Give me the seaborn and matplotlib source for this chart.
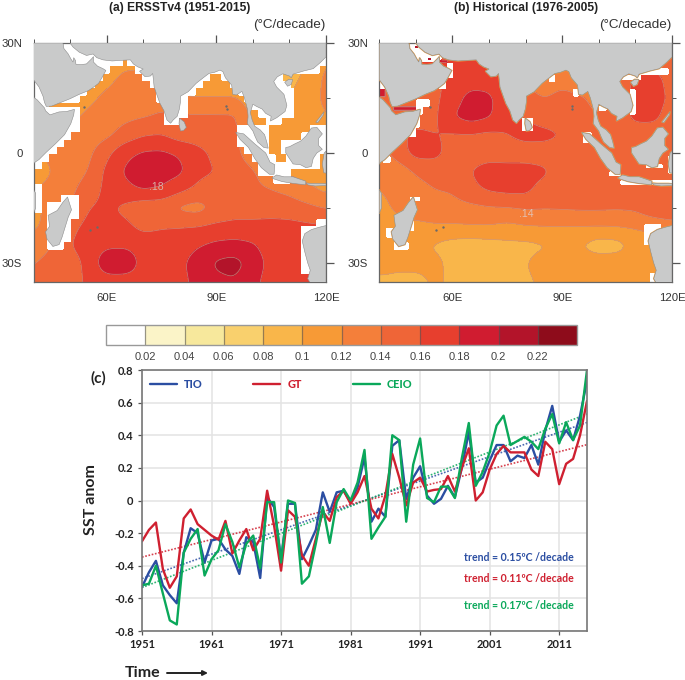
import numpy as np
import pandas as pd
import matplotlib
matplotlib.use('Agg')
import matplotlib.pyplot as plt
from matplotlib.colors import from_levels_and_colors
import seaborn as sns

# Trend maps, in 0.01 C/decade on a 5 degree grid.
GRID_LON = list(range(40, 121, 5))
GRID_LAT = [30, 25, 20, 15, 10, 5, 0, -5, -10, -15, -20, -25, -30, -35, -40]

TREND_A = [
    [10, 10, 10, 10, 10.5, 11, 11, 11, 10.5, 10.5, 10.5, 10.5, 10.5, 10, 9, 10, 11],
    [10, 10, 10, 10, 11, 11.5, 11.5, 11.5, 11, 11, 11, 10.5, 10.5, 10, 9, 10, 12],
    [10, 10, 10, 10.5, 11.5, 12.5, 12.5, 12.5, 11.5, 11, 11, 11, 11, 10, 9.5, 10.5, 12.5],
    [10, 10, 10, 11.5, 12.5, 13, 13, 13.5, 12, 12, 12, 12, 11, 10.5, 10, 11, 12.5],
    [10, 10.5, 11.5, 12.5, 13, 13.5, 13.8, 14.2, 14.3, 14.3, 14.3, 14.3, 11.5, 11, 10.5, 11, 12],
    [11, 11.5, 12.5, 13, 13.5, 14.8, 15.8, 16, 15, 15, 14.8, 14.5, 12, 11, 10.5, 10.5, 11],
    [11.5, 12.5, 13, 13.5, 15.5, 17.5, 18.3, 18.4, 17.8, 16.6, 15.5, 14.5, 13, 11, 10.5, 10.5, 10.5],
    [11, 12, 13, 14, 16.5, 18.3, 19, 19, 18.5, 16.5, 16, 14.8, 14.2, 13, 11.5, 11, 11],
    [12, 12.5, 13.5, 15, 16.5, 17.5, 18.2, 17.8, 16.5, 15.5, 15, 14.7, 14.3, 14, 13.5, 12.5, 11.5],
    [11.5, 12.5, 14, 16, 16.4, 15.5, 14.5, 14.5, 13.5, 13.2, 14.4, 15, 15, 15.2, 15, 14.5, 13.9],
    [11.5, 13, 15.5, 16.5, 16.8, 16.5, 15.4, 15.8, 15.9, 16, 16.4, 16.6, 16.6, 16.6, 16.6, 16.4, 16.3],
    [13, 14, 16, 16.8, 17.5, 17.6, 17.2, 17, 17.2, 17.8, 18.4, 18.6, 18.2, 17, 16.8, 16.6, 16.5],
    [14, 14.5, 15.2, 16.5, 19.6, 19.6, 17.3, 17.3, 17.6, 18.8, 20.4, 20.8, 19.2, 17.3, 16.8, 16.5, 16.3],
    [14, 14.3, 15.3, 16.3, 17, 17, 17.2, 17.2, 17.6, 18.4, 19.5, 19.8, 18.5, 17.2, 16.6, 16.2, 15.5],
    [14, 14.3, 15.3, 16.3, 17, 17, 17.2, 17.2, 17.6, 18.4, 19.5, 19.8, 18.5, 17.2, 16.6, 16.2, 15.5],
]

TREND_B = [
    [17, 17, 17, 17, 16, 17, 17, 15, 13, 13, 13, 13, 12, 12, 13, 14, 14],
    [18, 18, 18, 17, 16.5, 17, 16.5, 16, 13, 13, 13, 13, 13, 13, 14, 15, 14.5],
    [15, 15, 15, 15.5, 16.5, 17, 17, 15.5, 14, 13, 13.5, 13, 13.5, 14.5, 16.5, 17, 15],
    [15, 15, 15, 15.5, 17, 18.8, 18.5, 16.5, 14.5, 14, 14.5, 14.2, 13.5, 15, 16.5, 17, 15.5],
    [15, 15, 15, 15.5, 18, 19, 18.3, 16.5, 16, 14.7, 14.5, 14.5, 14, 15, 16.5, 16.5, 15],
    [14, 15.5, 16.5, 16, 15.8, 15.8, 15.5, 16, 16.8, 16.8, 16, 14.5, 14.5, 14.8, 15, 15, 15],
    [13, 15, 16.8, 16.8, 15, 15, 15, 14.8, 14.8, 14.7, 14.7, 14.6, 14.6, 14.6, 14.6, 14.6, 14.6],
    [12, 12.8, 14.2, 14.5, 15, 16, 17, 17, 17, 16.5, 14.8, 14.6, 14.6, 14.6, 14.6, 14.6, 14.6],
    [12, 12.5, 13.5, 14, 14.2, 15.5, 16.3, 16.6, 16.6, 15, 14.5, 14.5, 14.5, 14.5, 14.5, 14.5, 14.5],
    [11.5, 12.3, 13, 13.2, 13.3, 13.5, 13.8, 13.9, 14.2, 14.2, 14.3, 14.4, 14.4, 14.3, 14.4, 15.5, 16],
    [11, 11.5, 11.5, 11.8, 11.8, 11.9, 11.9, 11.5, 11.9, 12, 12, 12, 12, 12.1, 12.3, 12.6, 13],
    [11, 11, 10.5, 9.8, 9.2, 9, 9.2, 9.5, 9.5, 9.8, 10.2, 10, 9, 9.2, 10.6, 11, 12],
    [11, 10.5, 10.5, 10.5, 9.5, 9.4, 9.5, 9.7, 9.9, 10.7, 10.8, 10.9, 11, 11, 11, 11.2, 12],
    [9.5, 9.5, 9.5, 10.2, 9.8, 9.6, 9.6, 9.6, 9.8, 10.2, 10.6, 11, 11, 10.9, 11, 11, 11],
    [9.5, 9.5, 9.5, 10.2, 9.8, 9.6, 9.6, 9.6, 9.8, 10.2, 10.6, 11, 11, 10.9, 11, 11, 11],
]

# Where ERSST has data: (lat top, lat bottom, [lon ranges]).
OCEAN_A = [
    (25.5, 23.5, [(64.5, 65.6)]),
    (23.5, 21.5, [(60.9, 67.7), (118.5, 120)]),
    (21.5, 19.5, [(59.1, 69.5), (88.4, 91.4), (108.2, 120)]),
    (19.5, 17.5, [(56.8, 71.8), (86.4, 93.6), (110.5, 120)]),
    (17.5, 15.5, [(54.7, 73.6), (84.5, 95.9), (111.4, 120)]),
    (15.5, 13.5, [(52.7, 73.6), (82.3, 97.7), (111.4, 120)]),
    (13.5, 12.5, [(44.5, 75.5), (82.3, 98.6), (111.4, 120)]),
    (12.5, 11.5, [(52.7, 75.5), (82.3, 98.6), (111.4, 120)]),
    (11.5, 9.5, [(52.7, 75.5), (82.3, 98.6), (99.1, 101.4), (111.4, 120)]),
    (9.5, 7.5, [(52.7, 75.5), (80, 98.6), (99.1, 103.6), (108, 120)]),
    (7.5, 5.5, [(52.7, 95.5), (104.4, 115.5)]),
    (5.5, 3.5, [(50.5, 95.5), (104.4, 113.2)]),
    (3.5, 1.5, [(48.5, 95.7), (104.4, 107.7)]),
    (1.5, -0.5, [(46.5, 97.7), (104.4, 107.7)]),
    (-0.5, -2.5, [(44.5, 99.5), (106.4, 109.1), (118.5, 120)]),
    (-2.5, -4.5, [(42.3, 101.4), (118.5, 120)]),
    (-4.5, -6.5, [(40.5, 101.4), (110.5, 120)]),
    (-6.5, -8.5, [(40.5, 105.5), (110.5, 120)]),
    (-8.5, -11.5, [(42.3, 120)]),
    (-11.5, -13.5, [(42.3, 47.7), (52.5, 120)]),
    (-13.5, -16.5, [(42.3, 43.5), (52.5, 120)]),
    (-16.5, -18.2, [(40, 43.5), (52.5, 120)]),
    (-18.2, -20, [(40, 43.5), (50.5, 117.3)]),
    (-20, -24.4, [(40, 43.5), (50.5, 113.2)]),
    (-24.4, -26.4, [(40, 43.5), (48.5, 113.2)]),
    (-26.4, -33.2, [(40, 113.2)]),
    (-33.2, -40, [(40, 115.5)]),
]

# Model grid gaps in panel b: (lon0, lon1, lat0, lat1).
GAPS_B = [
    (47, 57, 25, 30), (58.4, 60.2, 20.5, 24.5), (56.5, 58.4, 17.3, 20.5),
    (50.2, 53.8, 12.7, 14.5), (50.2, 51.8, 10.5, 12.5), (40, 42, 17.3, 20),
    (50, 51, 7, 10), (48, 50, 4.5, 7), (41, 43, -2.5, -1),
    (79, 82.2, 6, 9.5), (86.5, 88, 19.5, 21.4), (93, 94.7, 15.5, 17.3),
    (100.2, 102, 11.4, 13.2), (108.4, 110.2, 10.5, 17.3), (106, 111.5, 20, 21.4),
    (111.5, 119, 21.4, 23.2), (95.6, 98, 2.7, 5.5), (102.9, 106, -6.4, -5),
    (106, 120, -8.6, -7.3), (113, 117.5, -4, -3.2), (118.8, 120, -5.5, -1),
    (48.4, 51, -13.2, -11.8), (42, 43.8, -23.2, -20.5), (43.8, 48, -26.4, -24.5),
    (48.4, 49.7, -21.4, -18.6), (112.5, 117, -25, -19.5), (113.8, 115.6, -35.2, -32.7),
]
HOT_CELLS_B = [
    (49.7, 50.7, 28.3, 29.3, 21), (53.1, 54.1, 25.1, 26.1, 21), (56.5, 58.5, 24.6, 25.4, 19),
    (44, 50, 11.7, 12.5, 19), (40, 41.5, 15.5, 17.3, 19),
]

ARABIA = [(40, 30), (48, 30), (48.2, 29.5), (48.3, 28.5), (49.5, 27), (50.2, 25.7), (50.8, 24.8),
          (51, 26), (51.5, 25.2), (51.6, 24.2), (53, 24.1), (54.5, 24.3), (56, 25.8), (56.4, 26.3),
          (56.4, 24.8), (57.5, 23.7), (59, 23), (59.8, 22.5), (58.7, 20.5), (57.8, 19), (56.5, 18),
          (55, 17), (52.5, 16), (50, 14.8), (48, 14), (45, 12.8), (43.5, 12.7), (43, 13.8),
          (42.6, 15.5), (41.5, 18), (40, 20)]
AFRICA = [(40, 15.2), (41, 14.5), (43, 12.3), (43.3, 11.5), (44.5, 10.4), (47, 11.2), (49, 11.3),
          (51.2, 11.9), (51, 10.4), (50.2, 8), (48.5, 5), (46, 2.5), (43.5, 0.2), (41.5, -1.8),
          (40.3, -2.6), (40, -3)]
MOZAMBIQUE = [(40, -10), (40.6, -11), (40.6, -15), (40, -16.5)]
ASIA = [(50, 30), (50.8, 28.9), (52.5, 27.5), (54.5, 26.6), (56.3, 27), (57.3, 26), (59, 25.4),
        (61.5, 25.1), (64.5, 25.3), (66.5, 25.4), (67.3, 24.3), (68.5, 23.5), (70, 22.9), (69, 22.3),
        (70.5, 20.8), (72, 21), (72.6, 21.7), (72.8, 20), (73, 18), (73.7, 16), (74.6, 13.5),
        (75.7, 11.5), (76.5, 9), (77.5, 8.1), (78.2, 9), (79.3, 10), (79.9, 12), (80.2, 14),
        (80.2, 15.5), (82.3, 16.7), (84.5, 19), (86.8, 20.8), (88, 21.7), (89.5, 22), (91, 22.6),
        (91.8, 22.2), (92.5, 20.5), (94.2, 18.5), (94.5, 16), (95.5, 15.8), (97, 16.8), (97.7, 15),
        (98.5, 12), (98.7, 10), (98.5, 8), (100, 6), (100.6, 4.5), (101.3, 3), (103, 1.5),
        (104.2, 1.3), (103.8, 3), (103.2, 5), (102, 6.3), (100.5, 7.3), (99.8, 9), (99.3, 11),
        (100, 13.3), (101, 12.7), (102.5, 12), (103.5, 10.8), (105, 10), (104.8, 8.7), (106.5, 9.6),
        (108.8, 11.3), (109.3, 13), (108.5, 16), (106.5, 18), (105.7, 19.5), (106.7, 20.8),
        (108.2, 21.6), (110, 21), (110.5, 20.5), (111, 21.5), (114, 22.4), (116.5, 23),
        (118.5, 24.7), (120, 26.2), (120, 30)]
HAINAN = [(108.7, 19.3), (109.5, 18.2), (110.5, 18.7), (110.9, 20), (109.8, 20.1)]
SRI_LANKA = [(79.9, 9.5), (81.2, 8.5), (81.8, 7), (81, 6.1), (80.2, 6), (79.8, 8)]
MADAGASCAR = [(49.3, -12), (50.4, -15.5), (49.5, -17.5), (47.8, -23), (47, -25), (45.3, -25.5),
              (43.7, -23.5), (43.3, -21.5), (44.4, -20), (44, -17), (46.5, -15.7), (48, -13.5)]
SUMATRA = [(95.3, 5.6), (97.5, 5.2), (100.5, 2.5), (103.5, 0), (104.7, -2.5), (106, -3.2), (105.8, -5.8),
           (104.5, -5.8), (102.3, -4), (100.5, -1.5), (98.8, 1.5), (96.5, 3.7)]
JAVA = [(105.2, -6.8), (106.5, -6), (108.5, -6.5), (111, -6.5), (114.5, -7.7), (114.4, -8.7),
        (111, -8.3), (108, -7.8), (105.5, -7)]
LESSER_SUNDA = [(114.6, -8.2), (116, -8.3), (119, -8.3), (120, -8.4), (120, -8.9), (117, -9), (115, -8.7)]
BORNEO = [(109, 1.5), (110, 1.7), (111.5, 2.5), (113, 3.2), (114.5, 4.6), (116, 6.8), (117.5, 7), (119, 5.2),
          (118, 4), (118, 2), (119, 1), (117.5, 0), (116.5, -1.5), (116, -3.7), (114.5, -4), (113, -3.2),
          (111, -3), (110, -1.5), (109, 0)]
PALAWAN = [(117.2, 8.4), (119.5, 11.3), (119.3, 10.4), (117.8, 8.3)]
SULAWESI = [(119.5, 0), (120, 0.5), (120, -5.5), (119.4, -5.4), (119, -3)]
AUSTRALIA = [(120, -19.8), (118, -20.3), (116, -20.9), (114.2, -22), (113.5, -24), (114.2, -27), (115, -30),
             (115.7, -32), (115, -34.3), (116, -36), (120, -36)]
LAND = [ARABIA, AFRICA, MOZAMBIQUE, ASIA, HAINAN, SRI_LANKA, MADAGASCAR, SUMATRA, JAVA, LESSER_SUNDA,
        BORNEO, PALAWAN, SULAWESI, AUSTRALIA]
ISLET_LON = [55.5, 57.5, 53.9, 92.7, 92.8]
ISLET_LAT = [-21, -20.2, 12.5, 12.8, 12]

LEVELS = [0.02, 0.04, 0.06, 0.08, 0.1, 0.12, 0.14, 0.16, 0.18, 0.2, 0.22]
LEVEL_LABELS = ['0.02', '0.04', '0.06', '0.08', '0.1', '0.12', '0.14', '0.16', '0.18', '0.2', '0.22']
BAND_COLORS = ['#ffffff', '#fbf4c8', '#f7e89c', '#f9d06d', '#f9b64a', '#f79a36', '#f47f3a',
               '#ef6537', '#e73f2e', '#d01c30', '#b3142a', '#8e0c1b']

# Panel c, SST anomaly per year.
YEARS = list(range(1951, 2016))
TIO = [-.53, -.44, -.37, -.52, -.58, -.63, -.32, -.17, -.20, -.38,
       -.245, -.235, -.30, -.34, -.45, -.225, -.255, -.475, .02, -.04,
       -.36, -.02, -.02, -.36, -.275, -.18, .05, -.07, .05, .06,
       -.01, .08, .265, -.13, -.05, -.10, .335, .37, .01, .14,
       .21, .03, -.02, .01, .09, .02, .20, .42, .11, .14,
       .245, .34, .34, .24, .275, .26, .34, .22, .43, .58,
       .36, .43, .37, .52, .735]
GT = [-.25, -.18, -.135, -.42, -.535, -.465, -.11, -.055, -.145, -.18,
      -.215, -.24, -.125, -.325, -.245, -.175, -.305, -.235, .06, -.155,
      -.43, -.06, -.10, -.335, -.40, -.235, -.07, -.125, .02, .06,
      -.02, .05, .15, -.05, -.11, .03, .285, .14, -.03, .11,
      .14, .055, .065, .07, .15, .055, .20, .32, 0, .05,
      .19, .285, .335, .295, .295, .295, .19, .15, .36, .315,
      .10, .225, .255, .40, .61]
CEIO = [-.52, -.51, -.40, -.57, -.735, -.76, -.32, -.235, -.175, -.46,
        -.36, -.305, -.145, -.255, -.41, -.265, -.215, -.415, -.01, -.01,
        -.38, 0, -.015, -.51, -.465, -.265, -.04, -.26, -.01, .07,
        0, .11, .31, -.235, -.165, -.10, .40, .37, -.13, .22,
        .38, .015, -.01, .085, .085, .015, .26, .475, .09, .175,
        .295, .46, .52, .34, .365, .39, .36, .315, .44, .53,
        .35, .48, .37, .46, .80]
SERIES_COLORS = {'TIO': '#2b4ea2', 'GT': '#cf2030', 'CEIO': '#0aa85a'}
TREND_LABELS = ['trend = 0.15ºC /decade', 'trend = 0.11ºC /decade', 'trend = 0.17ºC /decade']

W, H = 685, 680


def px_axes(fig, x0, y0, x1, y1):
    return fig.add_axes([x0 / W, 1 - y1 / H, (x1 - x0) / W, (y1 - y0) / H])


def smooth_field(rows):
    """Take the 5 degree grid to a 0.25 degree one so the contours come out round."""
    lat_up = np.array(GRID_LAT[::-1], dtype=float)
    z = np.array(rows[::-1], dtype=float) / 100
    lon_f = np.arange(40, 120.01, 0.25)
    lat_f = np.arange(-40, 30.01, 0.25)
    z = np.array([np.interp(lon_f, GRID_LON, r) for r in z])
    z = np.array([np.interp(lat_f, lat_up, c) for c in z.T]).T
    kernel = np.ones(11) / 11
    for _ in range(2):
        z = np.pad(z, ((5, 5), (0, 0)), mode='edge')
        z = np.apply_along_axis(lambda c: np.convolve(c, kernel, mode='valid'), 0, z)
        z = np.pad(z, ((0, 0), (5, 5)), mode='edge')
        z = np.apply_along_axis(lambda r: np.convolve(r, kernel, mode='valid'), 1, z)
    return lon_f, lat_f, z


def mask_a(lon, lat, z):
    lons, lats = np.meshgrid(lon, lat)
    keep = np.zeros_like(z, dtype=bool)
    for top, bottom, ranges in OCEAN_A:
        for lon0, lon1 in ranges:
            keep |= (lats <= top) & (lats > bottom) & (lons >= lon0) & (lons <= lon1)
    return np.where(keep, z, np.nan)


def mask_b(lon, lat, z):
    lons, lats = np.meshgrid(lon, lat)
    z = z.copy()
    for lon0, lon1, lat0, lat1 in GAPS_B:
        z[(lons >= lon0) & (lons <= lon1) & (lats >= lat0) & (lats <= lat1)] = np.nan
    for lon0, lon1, lat0, lat1, val in HOT_CELLS_B:
        z[(lons >= lon0) & (lons <= lon1) & (lats >= lat0) & (lats <= lat1)] = val / 100
    return z


def draw_map(ax, lon, lat, z, title, coast=None):
    cf = ax.contourf(lon, lat, z, levels=LEVELS, cmap=CMAP, norm=NORM, extend='both')
    ax.contour(lon, lat, z, levels=LEVELS, colors='#c79a88', linewidths=0.5, alpha=0.8)
    for poly in LAND:
        xs, ys = zip(*poly)
        if coast:
            ax.fill(xs, ys, facecolor='none', edgecolor=coast, lw=1.0, zorder=4)
        ax.fill(xs, ys, facecolor='#c9caca', edgecolor='#8c8c8c', lw=0.4, zorder=5)
    ax.scatter(ISLET_LON, ISLET_LAT, s=3, color='#6a6a6a', zorder=6, linewidths=0)
    ax.set_xlim(40, 120)
    ax.set_ylim(-35.2, 30)
    ax.set_xticks([60, 90, 120], ['60E', '90E', '120E'])
    ax.set_xticks([40, 50, 70, 80, 100, 110], minor=True)
    ax.set_yticks([-30, 0, 30], ['30S', '0', '30N'])
    ax.set_yticks([-15, 15], minor=True)
    ax.tick_params(which='major', length=6, width=0.9, color='#555555', labelsize=8.2,
                   labelcolor='#333333', top=True, right=True, pad=2)
    ax.tick_params(which='minor', length=3, width=0.7, color='#555555', top=True, right=True)
    for spine in ax.spines.values():
        spine.set_color('#666666')
        spine.set_linewidth(0.9)
    ax.text(0.5, 1.145, title, transform=ax.transAxes, ha='center', va='center',
            fontsize=8.7, fontweight='bold', color='#222222')
    ax.text(1.0, 1.075, '(°C/decade)', transform=ax.transAxes, ha='right', va='center',
            fontsize=9.7, color='#333333')
    return cf


sns.set_theme(style='white')
plt.rcParams['font.family'] = ['Liberation Sans', 'DejaVu Sans']
CMAP, NORM = from_levels_and_colors(LEVELS, BAND_COLORS, extend='both')

fig = plt.figure(figsize=(W / 100, H / 100), dpi=100, facecolor='white')

# maps
ax_a = px_axes(fig, 33.5, 43, 326, 282)
lon, lat, field_a = smooth_field(TREND_A)
cf = draw_map(ax_a, lon, lat, mask_a(lon, lat, field_a), '(a) ERSSTv4 (1951-2015)')
ax_a.text(73.6, -9.2, '.18', ha='center', va='center', fontsize=7.5, color='#d9b0a8')

ax_b = px_axes(fig, 379.3, 43, 672, 282)
lon, lat, field_b = smooth_field(TREND_B)
draw_map(ax_b, lon, lat, mask_b(lon, lat, field_b), '(b) Historical (1976-2005)', coast='#f2a03d')
ax_b.text(80.2, -16.6, '.14', ha='center', va='center', fontsize=7.5, color='#e3c0b0')

# colorbar
cax = px_axes(fig, 106, 325, 577, 345)
cb = fig.colorbar(cf, cax=cax, orientation='horizontal', spacing='uniform', extendfrac=1 / 10,
                  extendrect=True, drawedges=True)
cb.set_ticks(LEVELS, labels=LEVEL_LABELS)
cb.ax.tick_params(length=0, labelsize=8, labelcolor='#444444', pad=5)
cb.outline.set_edgecolor('#999999')
cb.outline.set_linewidth(1)
cb.dividers.set_color('#55555599')
cb.dividers.set_linewidth(0.9)

# time series
ax_c = px_axes(fig, 142, 370, 587, 631)
df = pd.DataFrame({'Year': YEARS, 'TIO': TIO, 'GT': GT, 'CEIO': CEIO})
long_df = df.melt(id_vars='Year', var_name='series', value_name='anom')
for name in SERIES_COLORS:
    sns.regplot(data=df, x='Year', y=name, scatter=False, ci=None, truncate=True, ax=ax_c,
                line_kws={'color': SERIES_COLORS[name], 'ls': (0, (1, 1)), 'lw': 1.2, 'alpha': 0.85})
sns.lineplot(data=long_df, x='Year', y='anom', hue='series', hue_order=list(SERIES_COLORS),
             palette=SERIES_COLORS, lw=1.7, ax=ax_c)
ax_c.set_xlim(1951, 2015)
ax_c.set_ylim(-0.8, 0.8)
ax_c.set_xticks(range(1951, 2012, 10))
ax_c.set_yticks(np.arange(-0.8, 0.81, 0.2))
ax_c.set_yticklabels(['-0.8', '-0.6', '-0.4', '-0.2', '0', '0.2', '0.4', '0.6', '0.8'])
ax_c.grid(True, color='#e3e3e3', lw=1.1)
ax_c.set_axisbelow(True)
ax_c.tick_params(length=3, width=0.9, color='#555555', labelsize=8, labelcolor='#222222', pad=3,
                 left=True, bottom=True)
for label in ax_c.get_xticklabels() + ax_c.get_yticklabels():
    label.set_family('Lato')
    label.set_fontweight('bold')
for spine in ax_c.spines.values():
    spine.set_color('#777777')
    spine.set_linewidth(1.2)
ax_c.set_xlabel('')
ax_c.set_ylabel('')

leg = ax_c.legend(loc='upper left', bbox_to_anchor=(0.0, 0.995), ncol=3, frameon=False, handlelength=2.5,
                  columnspacing=4.7, handletextpad=0.65, labelcolor='linecolor',
                  prop={'family': 'Lato', 'weight': 'black', 'size': 7.8}, borderaxespad=0.3)

for label, y_val, col in zip(TREND_LABELS, [-0.35, -0.48, -0.645], SERIES_COLORS.values()):
    ax_c.text(1997.3, y_val, label, color=col, fontsize=7.6, family='Lato', fontweight='bold', va='center')

fig.text(98 / W, 1 - 378 / H, '(c)', fontsize=11, family='Lato', fontweight='bold', color='#222222',
         ha='center', va='center')
fig.text(91 / W, 1 - 500 / H, 'SST anom', fontsize=11.5, family='Lato', fontweight='bold', color='#222222',
         rotation=90, ha='center', va='center')
fig.text(125 / W, 1 - 673 / H, 'Time', fontsize=11.5, family='Lato', fontweight='bold', color='#222222',
         ha='left', va='center')
arrow_y = 1 - 673 / H
ax_c.annotate('', xy=(208 / W, arrow_y), xytext=(167 / W, arrow_y), xycoords='figure fraction',
              textcoords='figure fraction', arrowprops=dict(arrowstyle='-|>', color='#222222', lw=1.4,
                                                            mutation_scale=7, shrinkA=0, shrinkB=0))

fig.savefig('out.png', dpi=100)
